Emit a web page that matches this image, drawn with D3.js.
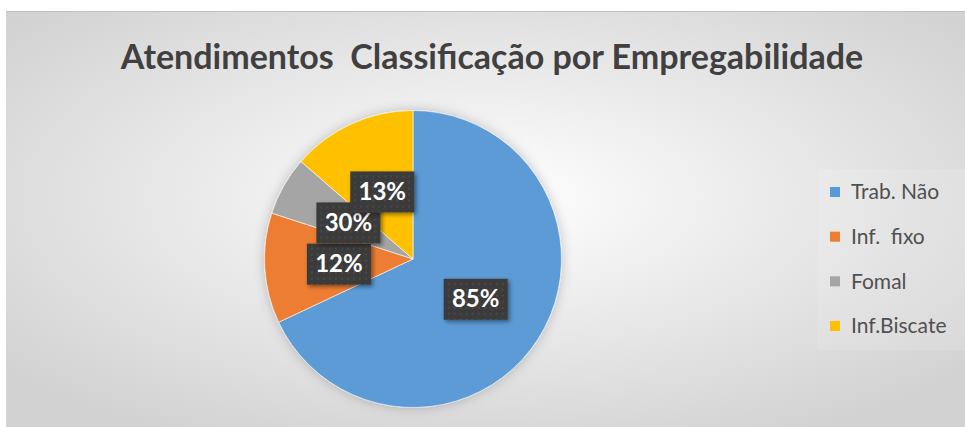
<!DOCTYPE html>
<html>
<head>
<meta charset="utf-8">
<script src="https://cdn.jsdelivr.net/npm/d3@7"></script>
<style>
  body { margin: 0; background: #fff; }
  svg { display: block; }
</style>
</head>
<body>
<div id="chart"></div>
<script>
// categories and values
var categories = ["Trab. Não", "Inf.  fixo", "Fomal", "Inf.Biscate"];
var values = [85, 15, 8, 17];
// the data labels as printed on the chart (they do not match the slices)
var labels = ["85%", "12%", "30%", "13%"];
var colors = ["#5b9bd5", "#ed7d31", "#a5a5a5", "#ffc000"];
var title = "Atendimentos  Classificação por Empregabilidade";

var W = 965, H = 427;
var cx = 413, cy = 259, r = 148.5;

var svg = d3.select("#chart").append("svg")
    .attr("width", W)
    .attr("height", H);

var defs = svg.append("defs");

// chart area background: light in the middle, grey at the edges
var bg = defs.append("radialGradient")
    .attr("id", "bg")
    .attr("cx", "50%").attr("cy", "45%").attr("r", "65%");
bg.append("stop").attr("offset", "0%").attr("stop-color", "#ffffff");
bg.append("stop").attr("offset", "100%").attr("stop-color", "#d2d2d2");

// dotted fill of the label boxes
var pat = defs.append("pattern")
    .attr("id", "dots")
    .attr("width", 6).attr("height", 6)
    .attr("patternUnits", "userSpaceOnUse");
pat.append("rect").attr("width", 6).attr("height", 6).attr("fill", "#3b3b3b");
pat.append("circle").attr("cx", 3).attr("cy", 3).attr("r", 1).attr("fill", "#4d4d4d");

var sh = defs.append("filter").attr("id", "pieShadow")
    .attr("x", "-20%").attr("y", "-20%").attr("width", "140%").attr("height", "140%");
sh.append("feDropShadow").attr("dx", 0).attr("dy", 0)
    .attr("stdDeviation", 6).attr("flood-color", "#000").attr("flood-opacity", 0.22);

var lsh = defs.append("filter").attr("id", "lblShadow")
    .attr("x", "-20%").attr("y", "-20%").attr("width", "150%").attr("height", "150%");
lsh.append("feDropShadow").attr("dx", 2).attr("dy", 2)
    .attr("stdDeviation", 2).attr("flood-color", "#000").attr("flood-opacity", 0.45);

svg.append("rect")
    .attr("x", 6).attr("y", 11)
    .attr("width", W - 6).attr("height", H - 11)
    .attr("fill", "url(#bg)");
svg.append("line")
    .attr("x1", 6).attr("x2", W).attr("y1", 11.5).attr("y2", 11.5)
    .attr("stroke", "#bfbfbf");

svg.append("text")
    .attr("x", 492).attr("y", 69)
    .attr("text-anchor", "middle")
    .attr("font-family", "Lato, sans-serif")
    .attr("font-weight", "bold")
    .attr("font-size", 34)
    .attr("fill", "#404040")
    .style("white-space", "pre")
    .text(title);

// pie
var pie = d3.pie().sort(null).value(function(d) { return d; });
var arcs = pie(values);
var arc = d3.arc().innerRadius(0).outerRadius(r);

var g = svg.append("g").attr("transform", "translate(" + cx + "," + cy + ")");

g.append("g").attr("filter", "url(#pieShadow)")
  .selectAll("path")
    .data(arcs)
  .enter().append("path")
    .attr("d", arc)
    .attr("fill", function(d, i) { return colors[i]; })
    .attr("stroke", "#ffffff")
    .attr("stroke-width", 0.6);

// data labels sit on the slice centroids
var lbl = g.selectAll("g.lbl")
    .data(arcs)
  .enter().append("g")
    .attr("class", "lbl")
    .attr("transform", function(d) {
      var c = arc.centroid(d);
      return "translate(" + c[0] + "," + c[1] + ")";
    });

lbl.append("rect")
    .attr("x", -32).attr("y", -20)
    .attr("width", 64).attr("height", 41)
    .attr("fill", "url(#dots)")
    .attr("filter", "url(#lblShadow)");

lbl.append("text")
    .attr("text-anchor", "middle")
    .attr("dy", "0.36em")
    .attr("font-family", "Lato, sans-serif")
    .attr("font-weight", "bold")
    .attr("font-size", 24)
    .attr("fill", "#ffffff")
    .text(function(d, i) { return labels[i]; });

// legend
var leg = svg.append("g");
leg.append("rect")
    .attr("x", 817).attr("y", 169)
    .attr("width", 148).attr("height", 181)
    .attr("fill", "#ffffff").attr("opacity", 0.12);

var y = d3.scalePoint().domain(categories).range([192, 326]);

var item = leg.selectAll("g.item")
    .data(categories)
  .enter().append("g")
    .attr("class", "item")
    .attr("transform", function(d) { return "translate(830," + y(d) + ")"; });

item.append("rect")
    .attr("x", 0).attr("y", -5)
    .attr("width", 10).attr("height", 10)
    .attr("fill", function(d, i) { return colors[i]; });

item.append("text")
    .attr("x", 21).attr("dy", "0.35em")
    .attr("font-family", "Lato, sans-serif")
    .attr("font-size", 21)
    .attr("fill", "#505050")
    .style("white-space", "pre")
    .text(function(d) { return d; });
</script>
</body>
</html>
